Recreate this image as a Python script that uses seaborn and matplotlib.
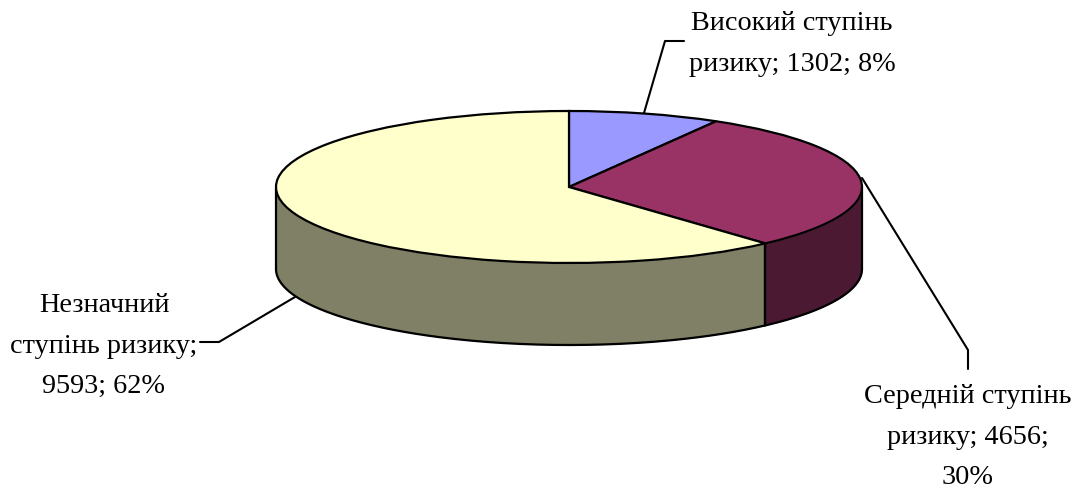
import numpy as np
import matplotlib
matplotlib.use("Agg")
import matplotlib.pyplot as plt
import seaborn as sns

# slices, clockwise from the top
names = ["Високий ступінь ризику", "Середній ступінь ризику", "Незначний ступінь ризику"]
values = [1302, 4656, 9593]
percents = [8, 30, 62]
top_colors = ["#9999FF", "#993366", "#FFFFCC"]
side_colors = ["#4C4C80", "#4C1933", "#808066"]

W, H = 1079, 490
CX, CY = 569, 187   # pie centre, px
RX, RY = 293, 76    # ellipse half axes, px
DEPTH = 82

sns.set_theme(style="white")
plt.rcParams["font.family"] = ["Liberation Serif", "DejaVu Serif"]

fig = plt.figure(figsize=(W / 100, H / 100), dpi=100)
ax = fig.add_axes([0, 0, 1, 1])

# side walls, only the part of each slice that faces front
edges = np.concatenate([[0], np.cumsum(values)]) / sum(values) * 2 * np.pi
for a0, a1, col in zip(edges[:-1], edges[1:], side_colors):
    lo, hi = max(a0, np.pi / 2), min(a1, 3 * np.pi / 2)
    if hi <= lo:
        continue
    t = np.linspace(lo, hi, 200)
    x, y = np.sin(t), np.cos(t)
    ax.fill_between(x, y, y - DEPTH / RY, color=col, linewidth=0, zorder=1)
    ax.plot(x, y - DEPTH / RY, color="black", lw=1.6, zorder=2)
    for a in (lo, hi):
        ax.plot([np.sin(a)] * 2, [np.cos(a), np.cos(a) - DEPTH / RY],
                color="black", lw=1.6, zorder=2)

wedges, _ = ax.pie(values, colors=top_colors, startangle=90, counterclock=False,
                   wedgeprops={"edgecolor": "black", "linewidth": 1.6})
for w in wedges:
    w.set_zorder(3)

# stretch the unit circle to the flattened ellipse
ax.set_aspect("auto")
ax.set_xlim(-CX / RX, (W - CX) / RX)
ax.set_ylim((CY - H) / RY, CY / RY)
ax.axis("off")

# everything below is placed in pixels
px = ax.transData.inverted().transform
def to_data(xp, yp):
    return px((xp, H - yp))

leaders = [
    [(644, 113), (665, 41), (684, 41)],
    [(862, 178), (968, 350), (968, 369)],
    [(295, 297), (219, 342), (200, 342)],
]
for pts in leaders:
    d = np.array([to_data(*p) for p in pts])
    ax.plot(d[:, 0], d[:, 1], color="black", lw=1.5, zorder=4, clip_on=False)

labels = [
    f"Високий ступінь\nризику; {values[0]}; {percents[0]}%",
    f"Середній ступінь\nризику; {values[1]};\n{percents[1]}%",
    f"Незначний\nступінь ризику;\n{values[2]}; {percents[2]}%",
]
label_pos = [(792, 44), (968, 437), (104, 346)]
for s, (xp, yp) in zip(labels, label_pos):
    xd, yd = to_data(xp, yp)
    ax.text(xd, yd, s, ha="center", va="center", fontsize=20.3, color="black",
            linespacing=1.8, zorder=5)

fig.savefig("out.png", dpi=100)
